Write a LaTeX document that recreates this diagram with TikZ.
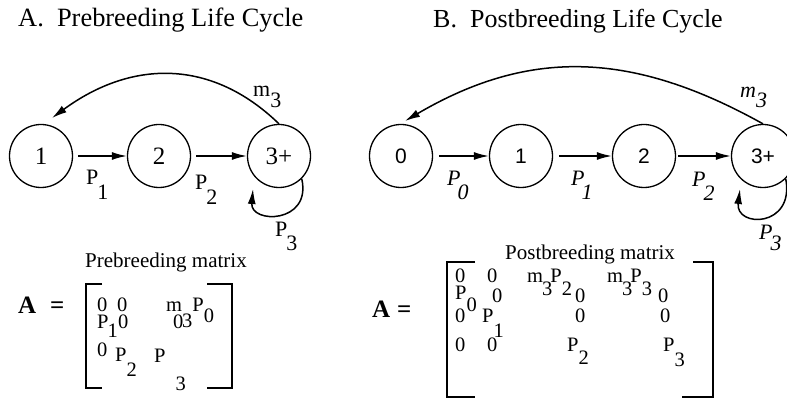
\documentclass[tikz,border=0pt]{standalone}
\usepackage{fontspec}
\setmainfont{Liberation Serif}
\newfontfamily\helv{Liberation Sans}
\usepackage{graphicx}
\usetikzlibrary{arrows.meta}
\newcommand{\lo}[2][0.6em]{\raisebox{-#1}{#2}}

\begin{document}
\begin{tikzpicture}[x=1pt,y=-1pt,
  st/.style={circle,draw,line width=1.3pt,minimum size=63pt,inner sep=0pt,font=\fontsize{25}{25}\selectfont},
  stb/.style={st,font=\helv\fontsize{21}{21}\selectfont},
  arr/.style={line width=1.5pt,-{Latex[length=15pt,width=8pt]}},
  ttl/.style={anchor=base west,inner sep=0pt,font=\fontsize{26.4}{26.4}\selectfont},
  sub/.style={anchor=base west,inner sep=0pt,font=\fontsize{21}{21}\selectfont},
  lab/.style={anchor=base west,inner sep=0pt,font=\fontsize{22}{22}\selectfont},
  labi/.style={lab,font=\itshape\fontsize{22}{22}\selectfont},
  ent/.style={anchor=base west,inner sep=0pt,font=\fontsize{20.5}{20.5}\selectfont},
  bigA/.style={anchor=base west,inner sep=0pt,font=\bfseries\fontsize{25}{25}\selectfont},
  brk/.style={line width=2.2pt}]
\useasboundingbox (0,0) rectangle (787,403);
\node[ttl] (ta) at (18,27) {A.\ \ Prebreeding Life Cycle};
\node[ttl,font=\fontsize{26}{26}\selectfont] (tb) at (433,28) {B.\ \ Postbreeding Life Cycle};
\node[st] (a1) at (41,156) {1};
\node[st] (a2) at (159,156) {2};
\node[st] (a3) at (279,156) {3+};
\coordinate (a1t) at (52,118);
\coordinate (a3l) at (253,189);
\draw[arr,shorten <=5pt] (a1) -- (a2);
\draw[arr,shorten <=5pt] (a2) -- (a3);
\draw[arr] (a3.north) .. controls (211,58) and (131,60) .. (a1t);
\draw[arr] (a3.-45) .. controls (312,224) and (250,224) .. (a3l);
\node[lab] (pa1) at (86,185) {P\kern-1pt\lo[0.68em]{1}};
\node[lab] (pa2) at (195,190) {P\kern-1pt\lo[0.68em]{2}};
\node[lab] (ma3) at (253,97) {m\lo[0.5em]{3}};
\node[lab] (pa3) at (275,237) {P\kern-1pt\lo[0.6em]{3}};
\node[stb] (b0) at (401,156) {0};
\node[stb] (b1) at (521,156) {1};
\node[stb] (b2) at (644,156) {2};
\node[stb] (b3) at (763,156) {3+};
\coordinate (b0t) at (405,121);
\coordinate (b3l) at (740,189);
\draw[arr,shorten <=6pt] (b0) -- (b1);
\draw[arr,shorten <=6pt] (b1) -- (b2);
\draw[arr,shorten <=2pt] (b2) -- (b3);
\draw[arr] (b3.north) .. controls (634,52) and (531,47) .. (b0t);
\draw[arr] (b3.-45) .. controls (795,228) and (735,228) .. (b3l);
\node[labi] (pb0) at (447,186) {P\kern-3pt\lo[0.6em]{0}};
\node[labi] (pb1) at (571,186) {P\kern-3pt\lo[0.6em]{1}};
\node[labi] (pb2) at (692,187) {P\kern-2pt\lo[0.6em]{2}};
\node[labi] (mb3) at (740,98) {m\lo[0.45em]{3}};
\node[labi] (pb3) at (759,240) {P\kern-2pt\lo[0.5em]{3}};
\node[sub] (sa) at (85,268) {Prebreeding matrix};
\node[sub] (sb) at (505,260) {Postbreeding matrix};
\node[bigA] (Aa) at (18,313) {A};
\node[bigA] (eqa) at (50,313) {=};
\draw[brk] (102,284) -- (86,284) -- (86,388) -- (102,388);
\draw[brk] (207,284) -- (232,284) -- (232,388) -- (207,388);
\node[ent] (a11) at (97,312) {0};
\node[ent] (a12) at (117,312) {0};
\node[ent] (a13) at (166,312) {m\lo[0.75em]{3}P\lo[0.5em]{0}};
\node[ent] (a21) at (97,328) {P\kern-1pt\lo[0.45em]{1}};
\node[ent] (a22) at (118,328) {0};
\node[ent] (a23) at (173,328) {0};
\node[ent] (a31) at (97,356) {0};
\node[ent] (a32) at (115,361) {P\lo[0.75em]{2}};
\node[ent] (a33) at (154,362) {P\hspace{10pt}\lo[1.4em]{3}};
\node[bigA] (Ab) at (372,317) {A};
\node[bigA] (eqb) at (397,317) {=};
\draw[brk] (475,262) -- (447,262) -- (447,397) -- (475,397);
\draw[brk] (693,262) -- (713,262) -- (713,397) -- (682,397);
\node[ent] (b11) at (455,283) {0};
\node[ent] (b12) at (487,283) {0};
\node[ent] (b13) at (527,283) {m\kern-1pt\lo{3}\kern-2pt P\lo{2}};
\node[ent] (b14) at (607,283) {m\kern-1pt\lo{3}\kern-2pt P\lo{3}};
\node[ent] (b21) at (455,300) {P\lo[0.55em]{0}};
\node[ent] (b22) at (492,302) {0};
\node[ent] (b23) at (575,302) {0};
\node[ent] (b24) at (658,302) {0};
\node[ent] (b31) at (455,323) {0};
\node[ent] (b32) at (482,323) {P\lo[0.7em]{1}};
\node[ent] (b33) at (575,323) {0};
\node[ent] (b34) at (660,323) {0};
\node[ent] (b41) at (455,352) {0};
\node[ent] (b42) at (487,352) {0};
\node[ent] (b43) at (567,352) {P\lo{2}};
\node[ent] (b44) at (663,352) {P\lo[0.7em]{3}};
\end{tikzpicture}
\end{document}
